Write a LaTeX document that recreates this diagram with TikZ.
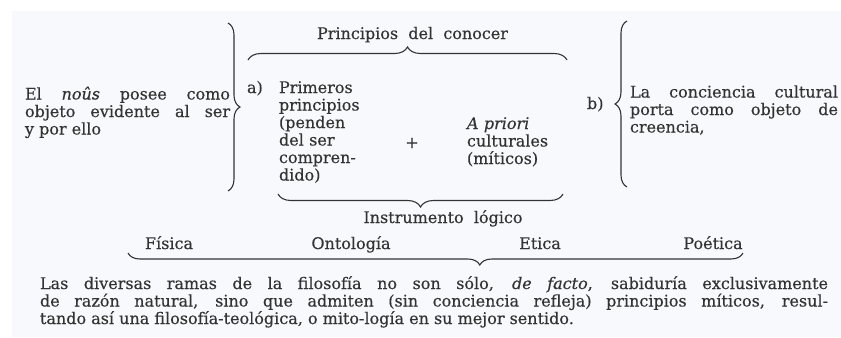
\documentclass[tikz,border=0pt]{standalone}
\usepackage{fontspec}
\setmainfont{DejaVu Serif}[FakeBold=0.35]
\usetikzlibrary{decorations.pathreplacing}
\definecolor{ink}{HTML}{333333}
\definecolor{paper}{HTML}{F8F9FD}
\newcommand\fsz{\fontsize{16bp}{17.5bp}\selectfont\hyphenpenalty=10000 \exhyphenpenalty=10000 \tolerance=10000 }
\begin{document}
\begin{tikzpicture}[x=1bp,y=-1bp,
  txt/.style={inner sep=0pt, outer sep=0pt, text=ink, font=\fsz, anchor=base west},
  jtxt/.style={txt, align=justify, text width=#1},
  ltxt/.style={txt, align=left, text width=#1},
  brc/.style={draw=ink, line width=1.1bp, decorate, decoration={brace, amplitude=#1}},
]
\useasboundingbox (0,0) rectangle (841,337);
\fill[paper] (12,11) rectangle (841,337);

% left statement
\node[jtxt=205bp] (nous) at (25,99.5) {El \textit{noûs} posee como\linebreak objeto evidente al ser\linebreak y por ello};

% big right brace
\coordinate (bR1) at (228,23);
\coordinate (bR2) at (228,191);
\draw[brc=12bp] (bR1) -- (bR2);

% a)
\node[txt] (a) at (247,93) {a)};
\node[ltxt=110bp] (prim) at (279,93) {Primeros\\principios\\(penden\\del ser\\compren-\\dido)};
\node[txt, anchor=center] (plus) at (412,143) {+};
\node[ltxt=95bp] (apriori) at (467,129) {\textit{A priori}\\culturales\\(míticos)};

% top brace
\node[txt, anchor=base] (conocer) at (412.5,39) {Principios\ \ del\ \ conocer};
\coordinate (t1) at (248,60);
\coordinate (t2) at (567,60);
\draw[brc=13bp] (t1) -- (t2);

% bottom brace under a)
\coordinate (u1) at (278,194);
\coordinate (u2) at (563,194);
\draw[brc=13bp] (u2) -- (u1);
\node[txt, anchor=base] (instr) at (443,223) {Instrumento\ \ lógico};

% b)
\node[txt] (b) at (587,109) {b)};
\coordinate (l1) at (627,187);
\coordinate (l2) at (627,21);
\draw[brc=12bp] (l1) -- (l2);
\node[jtxt=208bp] (conc) at (630,97.5) {La conciencia cultural\linebreak porta como objeto de\linebreak creencia,};

% branches
\node[txt, anchor=base] (fis) at (169,249) {Física};
\node[txt, anchor=base] (ont) at (351,249) {Ontología};
\node[txt, anchor=base] (eti) at (540,249) {Etica};
\node[txt, anchor=base] (poe) at (713,249) {Poética};
\coordinate (r1) at (128,253);
\coordinate (r2) at (743,253);
\draw[draw=ink, line width=1.1bp, decorate, decoration={brace, amplitude=12bp, aspect=0.428}] (r2) -- (r1);

% paragraph
\node[jtxt=788bp] (par) at (40,289) {Las diversas ramas de la filosofía no son sólo, \textit{de facto}, sabiduría exclusivamente\linebreak de razón natural, sino que admiten (sin conciencia refleja) principios míticos, resul-\linebreak tando así una filosofía-teológica, o mito-logía en su mejor sentido.};
\end{tikzpicture}
\end{document}
